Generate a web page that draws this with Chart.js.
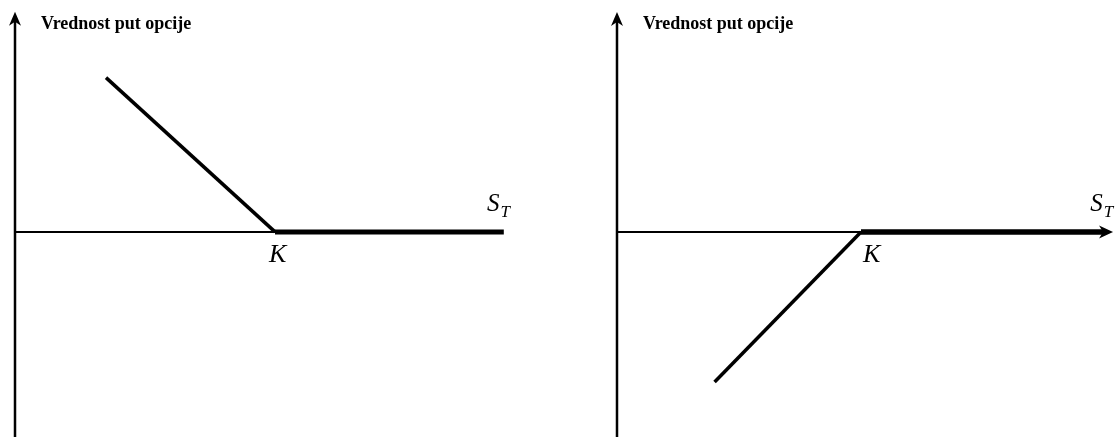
<!DOCTYPE html>
<html>
<head>
<meta charset="utf-8">
<script src="https://cdn.jsdelivr.net/npm/chart.js@4/dist/chart.umd.min.js"></script>
<style>
  html, body { margin: 0; padding: 0; background: #fff; }
  #wrap { position: relative; width: 1118px; height: 437px; overflow: hidden; }
  .panel { position: absolute; top: 0; width: 559px; height: 437px; }
  canvas { display: block; }
</style>
</head>
<body>
<div id="wrap">
  <div class="panel" style="left:0"><canvas id="c1" width="559" height="437"></canvas></div>
  <div class="panel" style="left:559px"><canvas id="c2" width="559" height="437"></canvas></div>
</div>
<script>
// ---- data ----
const strikePrice = 100;
const yAxisTitle = "Vrednost put opcije";
const xAxisLabel = "S";
const xAxisSub = "T";
const strikeLabel = "K";
// long put payoff (left panel)
const longPutS = [35, 100, 188];
const longPutPayoff = [65, 0, 0];
// short put payoff (right panel)
const shortPutS = [40, 100, 200];
const shortPutPayoff = [-60, 0, 0];

function pts(xs, ys, from, to) {
  const out = [];
  for (let i = from; i <= to; i++) out.push({ x: xs[i], y: ys[i] });
  return out;
}

const axesPlugin = {
  id: 'payoffAxes',
  afterDatasetsDraw(chart, args, o) {
    const { ctx, scales: { x, y } } = chart;
    const x0 = x.getPixelForValue(0);
    const y0 = y.getPixelForValue(0);
    const yTop = y.getPixelForValue(o.yTop);
    const yBot = chart.height;
    const xEnd = x.getPixelForValue(o.xEnd);
    ctx.save();
    ctx.strokeStyle = '#000';
    ctx.fillStyle = '#000';
    ctx.lineWidth = 2.5;
    // y axis
    ctx.beginPath();
    ctx.moveTo(x0, yBot);
    ctx.lineTo(x0, yTop + 8);
    ctx.stroke();
    ctx.beginPath();
    ctx.moveTo(x0, yTop);
    ctx.lineTo(x0 - 6, yTop + 14);
    ctx.lineTo(x0, yTop + 10);
    ctx.lineTo(x0 + 6, yTop + 14);
    ctx.closePath();
    ctx.fill();
    // x axis (thin part up to strike)
    ctx.lineWidth = 2;
    ctx.beginPath();
    ctx.moveTo(x0, y0);
    ctx.lineTo(x.getPixelForValue(strikePrice), y0);
    ctx.stroke();
    if (o.xArrow) {
      ctx.lineWidth = 5;
      ctx.beginPath();
      ctx.moveTo(x.getPixelForValue(strikePrice), y0);
      ctx.lineTo(xEnd - 8, y0);
      ctx.stroke();
      ctx.beginPath();
      ctx.moveTo(xEnd, y0);
      ctx.lineTo(xEnd - 14, y0 - 6.5);
      ctx.lineTo(xEnd - 10, y0);
      ctx.lineTo(xEnd - 14, y0 + 6.5);
      ctx.closePath();
      ctx.fill();
    }
    // title
    ctx.font = 'bold 18px "Liberation Serif", "DejaVu Serif", serif';
    ctx.textBaseline = 'alphabetic';
    ctx.textAlign = 'left';
    ctx.fillText(yAxisTitle, x0 + 26, 29);
    // K label
    const kx = x.getPixelForValue(strikePrice);
    ctx.font = 'italic 26px "Liberation Serif", "DejaVu Serif", serif';
    ctx.fillText(strikeLabel, kx + o.kDx, y0 + 30);
    // S_T label
    const sx = x.getPixelForValue(o.sLabelX);
    ctx.font = 'italic 25px "Liberation Serif", "DejaVu Serif", serif';
    ctx.fillText(xAxisLabel, sx, y0 - 21);
    const w = ctx.measureText(xAxisLabel).width;
    ctx.font = 'italic 17px "Liberation Serif", "DejaVu Serif", serif';
    ctx.fillText(xAxisSub, sx + w + 1, y0 - 15);
    ctx.restore();
  }
};

function makeChart(id, xs, ys, xr, yr, plug) {
  return new Chart(document.getElementById(id), {
    type: 'line',
    data: {
      datasets: [
        { data: pts(xs, ys, 0, 1), borderColor: '#000', borderWidth: 3.5, pointRadius: 0, tension: 0, borderCapStyle: 'butt' },
        { data: pts(xs, ys, 1, 2), borderColor: '#000', borderWidth: 5, pointRadius: 0, tension: 0, borderCapStyle: 'butt' }
      ]
    },
    options: {
      responsive: false,
      animation: false,
      events: [],
      layout: { padding: 0 },
      plugins: { legend: { display: false }, tooltip: { enabled: false }, payoffAxes: plug },
      scales: {
        x: { type: 'linear', display: false, min: xr[0], max: xr[1] },
        y: { type: 'linear', display: false, min: yr[0], max: yr[1] }
      }
    },
    plugins: [axesPlugin]
  });
}

makeChart('c1', longPutS, longPutPayoff, [-5.77, 209.23], [-86.4, 97.7],
  { yTop: 92.7, xEnd: 188, xArrow: false, kDx: -6, sLabelX: 181.5 });
makeChart('c2', shortPutS, shortPutPayoff, [-23.77, 205.33], [-82, 92.8],
  { yTop: 88, xEnd: 203.3, xArrow: true, kDx: 2, sLabelX: 194 });
</script>
</body>
</html>
